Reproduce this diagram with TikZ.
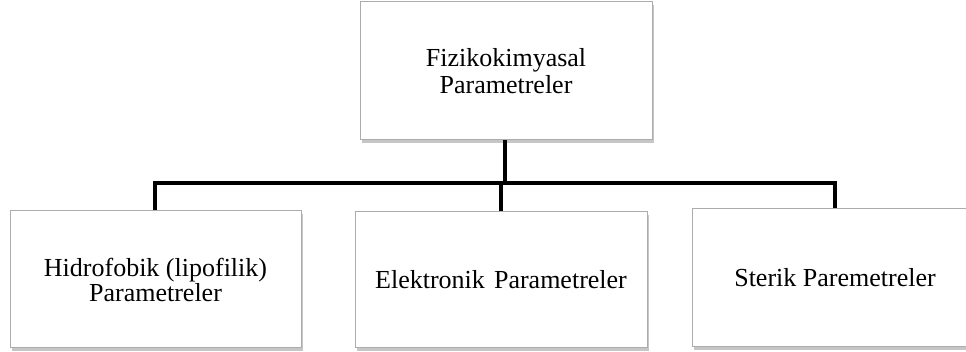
\documentclass[tikz,border=0pt]{standalone}
\usepackage{fontspec}
\setmainfont{Liberation Serif}
\usetikzlibrary{shadows}
\begin{document}
\begin{tikzpicture}[x=1pt,y=-1pt,
  paramBox/.style={rectangle, draw=gray!65, line width=1pt, fill=white,
    inner sep=0pt, align=center,
    font={\fontsize{26}{25}\selectfont},
    drop shadow={shadow xshift=2.2pt, shadow yshift=-2.6pt, opacity=0.45, fill=gray}},
  link/.style={line width=4pt, black, line join=miter}]
  \useasboundingbox (0,0) rectangle (966,352);
  \clip (0,0) rectangle (966,352);

  % parent box
  \node[paramBox, minimum width=292pt, minimum height=138pt,
        font={\fontsize{26}{26.5}\selectfont}]
        (top) at (506,71) {Fizikokimyasal\\Parametreler};

  % child boxes
  \node[paramBox, minimum width=291pt, minimum height=137pt]
        (hyd) at (155.5,279.5) {Hidrofobik (lipofilik)\\Parametreler};
  \node[paramBox, minimum width=292pt, minimum height=136pt]
        (ele) at (501,280) {Elektronik\hspace{0.35em}Parametreler};
  \node[paramBox, minimum width=286pt, minimum height=138pt]
        (ste) at (835,278) {Sterik Paremetreler};

  % tree connectors
  \coordinate (hub) at (505,183);
  \draw[link] (top.south -| hub) -- (hub);
  \draw[link] (hyd.north -| 155,0) -- (155,183) -- (835,183) -- (ste.north);
  \draw[link] (ele.north |- hub) -- (ele.north);
\end{tikzpicture}
\end{document}
